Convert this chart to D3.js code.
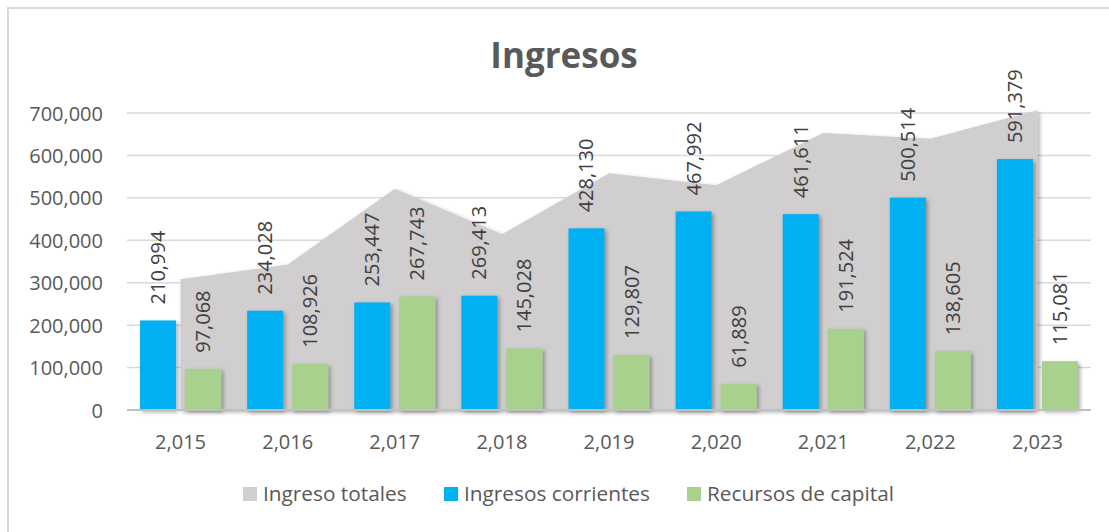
<!DOCTYPE html>
<html>
<head>
<meta charset="utf-8">
<script src="https://cdn.jsdelivr.net/npm/d3@7"></script>
<style>
  html, body { margin: 0; padding: 0; background: #fff; }
  svg { display: block; }
  text { font-family: "Open Sans", sans-serif; }
</style>
</head>
<body>
<svg id="chart" width="1109" height="532"></svg>
<script>
// Ingresos por año
const years = ["2,015", "2,016", "2,017", "2,018", "2,019", "2,020", "2,021", "2,022", "2,023"];
const ingresosCorrientes = [210994, 234028, 253447, 269413, 428130, 467992, 461611, 500514, 591379];
const recursosCapital = [97068, 108926, 267743, 145028, 129807, 61889, 191524, 138605, 115081];
const ingresoTotales = [308062, 342954, 521190, 414441, 557937, 529881, 653135, 639119, 706460];
const yTicks = [0, 100000, 200000, 300000, 400000, 500000, 600000, 700000];
const seriesNames = ["Ingreso totales", "Ingresos corrientes", "Recursos de capital"];
const seriesColors = ["#D0CECE", "#00B0F0", "#A9D18E"];

const svg = d3.select("#chart");
const fmt = d3.format(",");

const defs = svg.append("defs");
const sh = defs.append("filter").attr("id", "shadow")
  .attr("x", "-20%").attr("y", "-20%").attr("width", "140%").attr("height", "140%");
sh.append("feDropShadow").attr("dx", 2).attr("dy", 2).attr("stdDeviation", 2)
  .attr("flood-color", "#000").attr("flood-opacity", 0.35);

// chart frame
svg.append("rect").attr("x", 8).attr("y", 8).attr("width", 1120).attr("height", 540)
  .attr("fill", "none").attr("stroke", "#d9d9d9").attr("stroke-width", 2);

const plot = { left: 127, right: 1091, top: 113, bottom: 410 };

const x = d3.scaleBand().domain(years).range([plot.left, plot.right]).padding(0);
const x1 = d3.scaleBand().domain(["corr", "cap"]).range([0, x.bandwidth()])
  .paddingInner(0.2).paddingOuter(0.29);
const y = d3.scaleLinear().domain([0, 700000]).range([plot.bottom, plot.top]);

// gridlines
svg.append("g").selectAll("line").data(yTicks.filter(d => d > 0)).join("line")
  .attr("x1", plot.left).attr("x2", plot.right)
  .attr("y1", d => y(d)).attr("y2", d => y(d))
  .attr("stroke", "#d9d9d9").attr("stroke-width", 1.5);

// y tick labels
const yAxis = d3.axisLeft(y).tickValues(yTicks).tickFormat(d => fmt(d)).tickSize(0).tickPadding(0);
const gy = svg.append("g").attr("transform", `translate(${plot.left - 24},0)`).call(yAxis);
gy.select(".domain").remove();
gy.selectAll("text").attr("font-family", "'Open Sans', sans-serif").attr("font-size", 20)
  .attr("fill", "#595959").attr("dy", "0.35em");

// total area
const cx = d => x(d) + x.bandwidth() / 2;
const area = d3.area().x((d, i) => cx(years[i])).y0(y(0)).y1(d => y(d));
svg.append("path").datum(ingresoTotales).attr("d", area)
  .attr("fill", seriesColors[0]).attr("filter", "url(#shadow)");

// bars
const groups = svg.append("g").selectAll("g").data(years).join("g")
  .attr("transform", d => `translate(${x(d)},0)`);

groups.append("rect")
  .attr("x", x1("corr")).attr("width", x1.bandwidth())
  .attr("y", (d, i) => y(ingresosCorrientes[i]))
  .attr("height", (d, i) => y(0) - y(ingresosCorrientes[i]))
  .attr("fill", seriesColors[1]).attr("filter", "url(#shadow)");

groups.append("rect")
  .attr("x", x1("cap")).attr("width", x1.bandwidth())
  .attr("y", (d, i) => y(recursosCapital[i]))
  .attr("height", (d, i) => y(0) - y(recursosCapital[i]))
  .attr("fill", seriesColors[2]).attr("filter", "url(#shadow)");

// value labels, rotated
function label(key, values) {
  groups.append("text")
    .attr("transform", (d, i) =>
      `translate(${x1(key) + x1.bandwidth() / 2},${y(values[i]) - 16}) rotate(-90)`)
    .attr("dy", "0.35em")
    .attr("font-size", 20).attr("fill", "#404040")
    .text((d, i) => fmt(values[i]));
}
label("corr", ingresosCorrientes);
label("cap", recursosCapital);

// x axis
svg.append("line").attr("x1", plot.left).attr("x2", plot.right)
  .attr("y1", y(0)).attr("y2", y(0))
  .attr("stroke", "#bfbfbf").attr("stroke-width", 2);
const xAxis = d3.axisBottom(x).tickSize(0).tickPadding(0);
const gx = svg.append("g").attr("transform", `translate(0,${y(0) + 32})`).call(xAxis);
gx.select(".domain").remove();
gx.selectAll("text").attr("font-family", "'Open Sans', sans-serif").attr("font-size", 20)
  .attr("fill", "#595959").attr("dy", "0.35em");

// title
svg.append("text").attr("x", 564).attr("y", 68).attr("text-anchor", "middle")
  .attr("font-size", 35).attr("font-weight", "bold").attr("fill", "#595959")
  .text("Ingresos");

// legend
const legend = svg.append("g");
const legendStarts = [243, 444, 687];
seriesNames.forEach((name, i) => {
  const g = legend.append("g").attr("transform", `translate(${legendStarts[i]},487)`);
  g.append("rect").attr("width", 14).attr("height", 14).attr("fill", seriesColors[i]);
  g.append("text").attr("x", 20).attr("y", 7).attr("dy", "0.35em")
    .attr("font-size", 20.8).attr("fill", "#595959").text(name);
});
</script>
</body>
</html>
